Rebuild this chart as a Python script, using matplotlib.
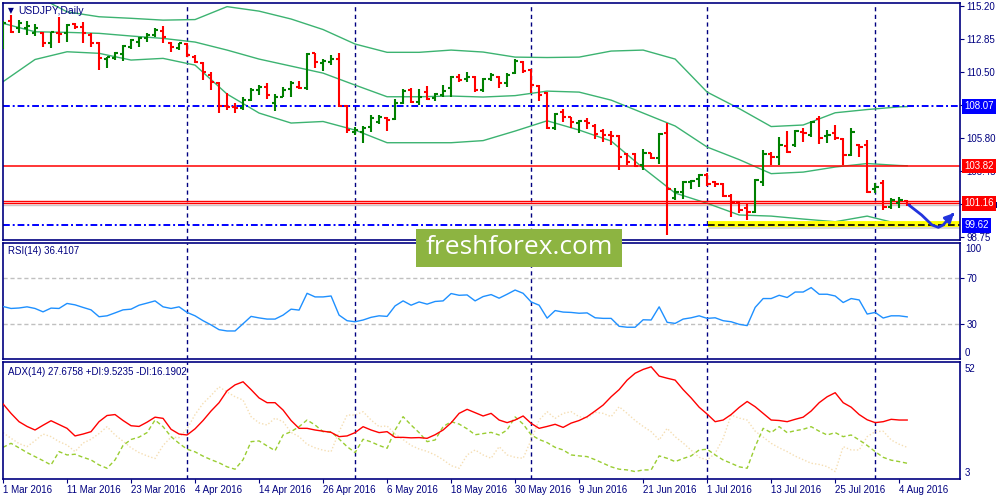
import numpy as np
import matplotlib
matplotlib.use('Agg')
import matplotlib.pyplot as plt
import matplotlib.transforms as mtransforms
from matplotlib.patches import Rectangle

plt.rcParams['font.family'] = ['Liberation Sans', 'DejaVu Sans']

NAVY = '#000080'
BULL = '#008000'
BEAR = '#ff0000'
BAND = '#3cb371'

# ---- data (USDJPY daily, 1 Mar - 5 Aug 2016) ----
date_labels = ['1 Mar 2016', '11 Mar 2016', '23 Mar 2016', '4 Apr 2016', '14 Apr 2016',
               '26 Apr 2016', '6 May 2016', '18 May 2016', '30 May 2016', '9 Jun 2016',
               '21 Jun 2016', '1 Jul 2016', '13 Jul 2016', '25 Jul 2016', '4 Aug 2016']
month_starts = [23, 44, 66, 88, 109]   # bar index of 1 Apr, 2 May, 1 Jun, 1 Jul, 1 Aug

opens = [112.31, 114.15, 113.61, 113.61, 113.26, 113.26, 112.55, 113.30, 113.26, 113.92,
         113.73, 113.14, 112.59, 111.41, 111.48, 111.79, 112.31, 112.66, 112.90, 113.14,
         113.44, 112.59, 112.19, 112.50, 111.59, 111.13, 110.29, 109.70, 108.09, 108.04,
         107.93, 108.52, 109.23, 109.42, 108.28, 108.75, 109.28, 109.42, 109.35, 111.84,
         111.13, 111.24, 111.41, 108.09, 106.26, 106.26, 106.62, 106.97, 107.21, 107.14,
         108.28, 109.23, 108.39, 109.11, 108.64, 108.87, 109.35, 110.17, 109.99, 110.13,
         109.23, 109.99, 110.17, 109.70, 110.46, 111.22, 110.65, 109.51, 109.03, 106.50,
         107.68, 107.28, 106.90, 107.04, 106.67, 106.33, 106.03, 105.95, 104.67, 104.67,
         103.89, 104.72, 104.37, 106.15, 101.52, 101.99, 102.70, 102.88, 103.18, 102.70,
         102.54, 101.69, 101.28, 100.81, 100.57, 102.70, 104.67, 104.48, 105.24, 105.31,
         106.26, 106.03, 107.14, 105.95, 106.15, 105.72, 104.60, 105.31, 105.31, 102.16,
         102.59, 100.93, 101.17, 101.35]
highs = [114.15, 114.56, 114.20, 114.15, 113.92, 113.37, 113.37, 114.44, 113.92, 113.97,
         114.08, 113.26, 112.66, 111.59, 111.95, 112.43, 112.83, 113.02, 113.26, 113.61,
         113.78, 112.66, 112.59, 112.55, 111.72, 111.24, 110.53, 109.82, 108.99, 108.28,
         108.75, 109.35, 109.58, 109.70, 108.94, 109.42, 109.89, 109.89, 111.84, 111.88,
         111.41, 111.72, 111.88, 108.16, 106.62, 106.67, 107.45, 107.45, 107.33, 108.57,
         109.28, 109.35, 109.28, 109.51, 109.03, 109.58, 110.22, 110.36, 110.53, 110.22,
         110.06, 110.41, 110.22, 110.41, 111.40, 111.31, 110.70, 109.58, 109.11, 107.61,
         107.85, 107.33, 107.09, 107.21, 106.81, 106.43, 106.33, 106.03, 104.77, 104.77,
         105.01, 104.77, 106.15, 106.86, 102.24, 102.78, 102.83, 103.25, 103.35, 102.78,
         102.59, 101.83, 101.35, 101.21, 102.88, 104.96, 104.84, 105.91, 106.33, 106.38,
         106.50, 107.04, 107.38, 106.38, 106.74, 105.79, 106.50, 105.42, 105.67, 102.63,
         102.83, 101.52, 101.60, 101.40]
lows = [112.12, 113.26, 113.26, 113.14, 113.07, 112.31, 112.19, 112.55, 112.66, 113.54,
        112.55, 112.26, 110.65, 110.77, 111.36, 111.31, 112.12, 112.31, 112.66, 113.02,
        112.59, 111.95, 112.07, 111.59, 111.13, 109.94, 109.23, 107.61, 107.80, 107.57,
        107.80, 108.47, 108.87, 108.57, 107.75, 108.71, 108.71, 109.28, 109.23, 110.77,
        110.60, 111.00, 108.04, 106.19, 106.03, 105.48, 106.26, 106.81, 106.33, 107.09,
        108.23, 108.32, 108.16, 108.52, 108.47, 108.75, 108.71, 109.82, 109.82, 109.08,
        109.11, 109.89, 109.35, 109.42, 110.36, 110.46, 108.99, 108.47, 106.43, 106.38,
        106.97, 106.50, 106.19, 106.43, 105.72, 105.55, 105.31, 103.54, 103.89, 103.73,
        103.54, 104.30, 103.96, 98.91, 101.40, 101.45, 102.16, 102.31, 102.40, 102.35,
        101.60, 100.22, 100.50, 99.98, 100.50, 102.40, 103.89, 103.89, 104.72, 105.19,
        105.55, 105.86, 105.39, 105.44, 105.67, 103.89, 104.57, 104.46, 101.92, 101.92,
        100.69, 100.74, 100.81, 100.98]
closes = [113.97, 113.37, 113.97, 113.78, 113.61, 112.55, 113.33, 113.21, 113.85, 113.73,
          113.26, 112.59, 111.48, 111.55, 111.88, 112.38, 112.78, 112.90, 113.14, 113.49,
          113.02, 112.31, 112.55, 111.72, 111.24, 110.53, 109.82, 108.09, 108.04, 107.93,
          108.52, 109.23, 109.42, 108.87, 108.75, 109.23, 109.75, 109.35, 111.79, 111.24,
          111.31, 111.41, 108.09, 106.38, 106.38, 106.50, 107.21, 107.33, 107.09, 108.28,
          109.18, 108.39, 108.75, 108.57, 108.94, 109.18, 110.13, 109.94, 110.13, 109.23,
          109.99, 110.29, 109.70, 110.29, 111.29, 110.60, 109.58, 108.87, 106.50, 107.52,
          107.28, 106.97, 107.04, 106.90, 106.10, 106.03, 105.95, 104.48, 104.13, 103.82,
          104.72, 104.37, 106.10, 102.16, 101.99, 102.70, 102.78, 103.18, 102.54, 102.54,
          101.69, 101.28, 100.69, 100.57, 102.83, 104.67, 104.48, 105.31, 104.84, 106.33,
          106.15, 106.97, 105.79, 106.03, 105.79, 104.60, 106.26, 105.19, 101.99, 102.35,
          100.93, 101.40, 101.40, 101.12]

# Bollinger bands, read every 4th bar
band_idx = list(range(0, 113, 4)) + [113]
bb_upper = [117.05, 115.98, 114.79, 114.44, 114.33, 114.20, 114.24, 115.16, 114.84, 114.28,
            113.53, 112.50, 111.91, 111.91, 112.07, 111.93, 111.57, 111.54, 111.57, 112.00,
            112.07, 111.43, 109.08, 107.91, 106.63, 106.74, 107.61, 107.84, 108.03, 108.05]
bb_middle = [113.97, 113.37, 113.33, 113.26, 113.07, 112.90, 112.64, 112.07, 111.43, 110.93,
             110.43, 109.58, 108.75, 108.75, 108.80, 108.73, 108.83, 109.15, 109.08, 108.51,
             107.59, 106.67, 105.17, 104.28, 103.28, 103.39, 103.75, 104.00, 103.86, 103.84]
bb_lower = [109.82, 111.40, 111.95, 111.84, 111.36, 111.48, 111.00, 108.94, 107.59, 106.88,
            106.99, 106.38, 105.48, 105.48, 105.48, 105.63, 106.31, 107.04, 106.38, 105.60,
            103.68, 101.90, 101.17, 100.34, 100.26, 100.05, 99.86, 100.26, 99.70, 99.63]

level_blue_top = 108.07
level_red_mid = 103.82
level_red_low = [101.35, 101.16]
bid_price = 101.04
level_blue_low = 99.62
price_ticks = [115.20, 112.85, 110.50, 108.15, 105.80, 103.45, 101.10, 98.75]
hidden_ticks = [108.15, 101.10]   # covered by the line labels on the chart

# hand-drawn arrow (bar index, price)
arrow_x = [113.2, 114.8, 116.1, 116.9, 117.5, 118.4]
arrow_y = [101.05, 100.34, 99.63, 99.46, 99.63, 100.21]
arrow_tip = (119.1, 100.62)

rsi = [45.3, 43.6, 44.0, 45.0, 43.6, 40.7, 43.9, 43.6, 47.9, 46.7,
       44.5, 42.4, 36.5, 37.3, 39.8, 42.4, 43.0, 46.4, 48.2, 50.1,
       45.0, 43.6, 45.0, 40.2, 37.3, 33.1, 29.5, 25.4, 24.3, 24.3,
       30.5, 36.8, 35.5, 34.5, 34.5, 37.9, 43.0, 42.2, 56.6, 53.5,
       53.5, 54.3, 37.9, 33.1, 32.2, 33.7, 36.0, 37.3, 36.8, 45.8,
       50.1, 46.4, 49.2, 47.3, 49.6, 50.1, 56.4, 54.9, 55.2, 50.1,
       53.8, 55.5, 52.4, 55.8, 59.4, 56.6, 49.2, 46.4, 35.3, 41.8,
       40.5, 40.2, 39.5, 39.8, 35.6, 35.1, 35.1, 28.3, 27.5, 27.5,
       33.9, 33.7, 45.0, 31.7, 30.8, 34.5, 35.6, 37.3, 35.1, 35.6,
       33.1, 32.2, 30.0, 28.9, 44.5, 52.1, 52.1, 54.9, 53.0, 57.7,
       57.7, 61.5, 55.8, 55.8, 54.3, 48.7, 52.1, 50.9, 38.8, 40.2,
       35.4, 37.3, 37.3, 36.4]

adx = [34.5, 30.5, 27.0, 25.0, 23.5, 25.5, 27.4, 25.8, 24.2, 21.0,
       21.8, 22.8, 27.0, 29.6, 30.0, 27.5, 25.3, 25.0, 26.8, 28.9,
       28.4, 23.8, 21.8, 21.4, 24.0, 27.5, 31.5, 35.0, 40.0, 42.5,
       43.8, 40.5, 37.0, 35.0, 35.0, 31.9, 27.5, 24.2, 24.2, 23.5,
       23.0, 22.5, 20.7, 21.0, 22.4, 24.9, 23.5, 22.4, 22.8, 20.4,
       20.4, 20.2, 20.3, 20.0, 21.5, 23.5, 26.5, 30.5, 32.2, 30.8,
       29.4, 30.5, 27.7, 26.6, 27.7, 29.4, 26.3, 24.2, 25.0, 25.9,
       24.6, 26.4, 27.5, 29.1, 31.5, 34.0, 37.5, 40.5, 44.5, 47.4,
       49.0, 50.1, 46.2, 45.3, 44.5, 40.5, 37.0, 33.1, 30.2, 27.0,
       27.7, 30.0, 33.0, 35.5, 33.3, 30.5, 27.7, 27.5, 27.0, 28.0,
       28.9, 31.5, 35.0, 37.5, 39.2, 35.0, 33.1, 30.0, 27.8, 26.6,
       27.0, 28.0, 27.7, 27.7]
plus_di = [16.2, 17.9, 16.0, 14.0, 12.3, 10.6, 8.8, 14.4, 13.0, 13.3,
           12.0, 10.9, 8.8, 7.4, 10.9, 17.0, 19.5, 20.5, 22.4, 27.7,
           24.9, 20.7, 17.9, 15.4, 14.3, 12.5, 11.0, 9.7, 8.0, 7.0,
           11.0, 18.6, 18.9, 16.8, 14.8, 21.4, 22.8, 24.9, 27.7, 25.6,
           22.8, 22.8, 19.7, 16.5, 14.0, 19.6, 18.5, 17.0, 15.8, 23.5,
           29.1, 25.6, 22.4, 18.6, 19.3, 24.9, 27.0, 26.0, 24.0, 21.5,
           22.0, 22.5, 21.4, 23.5, 29.0, 26.0, 21.5, 19.5, 18.2, 16.2,
           15.1, 13.0, 12.6, 12.3, 11.0, 9.5, 8.0, 7.0, 6.7, 6.0,
           6.7, 6.7, 12.6, 11.6, 10.2, 11.5, 12.6, 15.1, 15.4, 13.0,
           10.9, 9.5, 8.0, 7.4, 16.5, 24.2, 22.4, 24.9, 22.4, 23.2,
           23.8, 24.9, 23.0, 21.4, 22.4, 20.7, 21.4, 19.3, 17.0, 14.4,
           12.0, 10.8, 10.2, 9.5]
minus_di = [22.4, 20.0, 17.8, 16.5, 19.0, 21.8, 20.7, 18.6, 17.2, 14.4,
            18.0, 19.6, 22.0, 24.9, 21.4, 18.8, 16.0, 14.0, 12.6, 11.5,
            17.0, 20.5, 20.3, 24.0, 30.0, 34.7, 38.0, 41.7, 39.5, 37.5,
            36.1, 29.1, 26.5, 25.6, 28.5, 27.0, 22.5, 20.7, 17.5, 16.0,
            15.0, 14.4, 22.8, 29.8, 29.8, 31.2, 27.7, 24.9, 25.2, 21.8,
            19.5, 17.0, 15.5, 14.5, 13.0, 11.0, 8.5, 7.4, 13.0, 15.1,
            13.0, 11.6, 16.5, 13.0, 12.0, 11.6, 19.3, 27.7, 31.2, 28.4,
            30.5, 31.2, 29.1, 28.6, 31.0, 30.5, 29.1, 33.3, 30.5, 27.5,
            25.0, 22.8, 19.3, 24.2, 20.7, 18.0, 15.0, 12.0, 10.9, 13.7,
            20.0, 29.8, 28.5, 27.7, 23.0, 20.5, 17.9, 16.0, 14.4, 12.5,
            11.0, 9.5, 9.0, 8.1, 6.0, 16.5, 15.1, 15.1, 20.7, 22.8,
            23.0, 19.3, 17.5, 16.2]

# ---- figure ----
fig = plt.figure(figsize=(10, 5), dpi=100)
fig.patch.set_facecolor('white')
ax = fig.add_axes([0.0027, 0.52, 0.9573, 0.4746])
ax_rsi = fig.add_axes([0.0027, 0.2814, 0.9573, 0.2332])
ax_adx = fig.add_axes([0.0027, 0.0426, 0.9573, 0.2328])

n = len(closes)
x = np.arange(n)
o, h, l, c = map(np.array, (opens, highs, lows, closes))
xlim = (-0.04, 119.6)

for a in (ax, ax_rsi, ax_adx):
    a.set_xlim(*xlim)
    for s in a.spines.values():
        s.set_color(NAVY)
        s.set_linewidth(1.2)
    a.yaxis.tick_right()
    a.tick_params(axis='y', colors=NAVY, labelcolor=NAVY, length=3, width=0.8,
                  labelsize=7, pad=1.5)
    for m in month_starts:
        a.axvline(m, color=NAVY, lw=1.0, ls=(0, (3, 2.5)), zorder=1)

# price panel
ax.set_ylim(98.56, 115.44)
ax.set_yticks(price_ticks)
ax.set_yticklabels(['' if t in hidden_ticks else '%.2f' % t for t in price_ticks])
ax.set_xticks([])

ax.plot(band_idx, bb_upper, color=BAND, lw=1.0, zorder=2)
ax.plot(band_idx, bb_middle, color=BAND, lw=1.0, zorder=2)
ax.plot(band_idx, bb_lower, color=BAND, lw=1.0, zorder=2)

ax.axhline(level_blue_top, color='#0000ff', lw=1.4, ls=(0, (3.5, 1.5, 1, 1.5)), zorder=2)
ax.axhline(level_blue_low, color='#0000ff', lw=1.4, ls=(0, (3.5, 1.5, 1, 1.5)), zorder=2)
ax.axhline(level_red_mid, color='#ff0000', lw=1.1, zorder=2)
for lv in level_red_low:
    ax.axhline(lv, color='#ff0000', lw=1.0, zorder=2)
ax.axhline(bid_price, color='#c8c8c8', lw=1.0, zorder=1.5)

# yellow highlight of the support zone
ax.plot([88.1, xlim[1]], [level_blue_low - 0.16] * 2, color='#d4d4d4', lw=2.0,
        solid_capstyle='butt', zorder=2.1)
ax.plot([88.1, xlim[1]], [level_blue_low + 0.08] * 2, color='#ffff00', lw=4.2,
        solid_capstyle='butt', zorder=2.2)
ax.plot([88.1, xlim[1]], [level_blue_low] * 2, color='black', lw=1.2,
        ls=(0, (4, 2)), zorder=2.3)

cols = np.where(c >= o, BULL, BEAR)
ax.vlines(x, l, h, colors=cols, lw=1.5, zorder=3)
ax.hlines(o, x - 0.42, x, colors=cols, lw=1.5, zorder=3)
ax.hlines(c, x, x + 0.42, colors=cols, lw=1.5, zorder=3)

ax.plot(arrow_x, arrow_y, color='#2233dd', lw=2.0, solid_capstyle='round', zorder=4)
ax.annotate('', xy=arrow_tip, xytext=(arrow_x[-1], arrow_y[-1]),
            arrowprops=dict(arrowstyle='-|>', color='#2233dd', lw=2.0, mutation_scale=13),
            annotation_clip=False, zorder=4)

ax.text(0.0055, 0.965, '▼', transform=ax.transAxes, fontsize=5.5, color=NAVY,
        va='center', ha='left', family='DejaVu Sans')
ax.text(0.016, 0.965, 'USDJPY,Daily', transform=ax.transAxes, fontsize=7.5, color=NAVY,
        va='center', ha='left')

trans = mtransforms.blended_transform_factory(ax.transAxes, ax.transData)
# bid-price marker, almost fully hidden behind the 101.16 label
ax.add_patch(Rectangle((1.002, 100.83), 0.0365, 0.4, transform=trans, facecolor=NAVY,
                       edgecolor='none', clip_on=False, zorder=9))
box_labels = [(level_blue_top, '108.07', '#0000ff'),
              (level_red_mid, '103.82', '#ff0000'),
              (101.16, '101.16', '#ff0000'),
              (level_blue_low, '99.62', '#0000ff')]
for yv, txt, bg in box_labels:
    ax.text(1.0045, yv, txt, transform=trans, color='white', fontsize=7, va='center',
            ha='left', clip_on=False, zorder=11,
            bbox=dict(facecolor=bg, edgecolor='none', boxstyle='square,pad=0.25'))

# RSI panel
ax_rsi.set_ylim(0, 100)
ax_rsi.set_yticks([70, 30])
ax_rsi.set_xticks([])
for lv in (70, 30):
    ax_rsi.axhline(lv, color='#c0c0c0', lw=1.0, ls=(0, (3, 2)), zorder=1)
ax_rsi.plot(x, rsi, color='#1e90ff', lw=1.0, zorder=3)
rt = mtransforms.blended_transform_factory(ax_rsi.transAxes, ax_rsi.transData)
ax_rsi.text(1.0052, 94.5, '100', transform=rt, fontsize=7, color=NAVY, va='center', clip_on=False)
ax_rsi.text(1.0052, 5.5, '0', transform=rt, fontsize=7, color=NAVY, va='center', clip_on=False)
ax_rsi.text(0.0055, 0.93, 'RSI(14) 36.4107', transform=ax_rsi.transAxes, fontsize=7,
            color=NAVY, va='center', ha='left')

# ADX panel
ax_adx.set_ylim(3, 52)
ax_adx.set_yticks([])
ax_adx.plot(x, minus_di, color='#f5deb3', lw=1.0, ls=(0, (1, 1.5)), zorder=2)
ax_adx.plot(x, plus_di, color='#9acd32', lw=1.0, ls=(0, (3, 2)), zorder=2)
ax_adx.plot(x, adx, color='#ff0000', lw=1.0, zorder=3)
at = mtransforms.blended_transform_factory(ax_adx.transAxes, ax_adx.transData)
ax_adx.text(1.0052, 49.0, '52', transform=at, fontsize=7, color=NAVY, va='center', clip_on=False)
ax_adx.text(1.0052, 5.5, '3', transform=at, fontsize=7, color=NAVY, va='center', clip_on=False)
ax_adx.text(0.0055, 0.917, 'ADX(14) 27.6758 +DI:9.5235 -DI:16.1902', transform=ax_adx.transAxes,
            fontsize=7, color=NAVY, va='center', ha='left')

ax_adx.set_xticks(np.arange(0, n, 8))
ax_adx.set_xticklabels(date_labels, ha='left')
ax_adx.tick_params(axis='x', colors=NAVY, labelcolor=NAVY, length=3, width=0.8,
                   labelsize=7, pad=1.5)

# watermark
fig.patches.append(Rectangle((0.416, 0.466), 0.206, 0.077, transform=fig.transFigure,
                             facecolor='#8db441', edgecolor='none', zorder=5))
fig.text(0.519, 0.505, 'freshforex.com', color='white', fontsize=19, family='Open Sans',
         ha='center', va='center', zorder=6)

fig.savefig('out.png', dpi=100, facecolor='white')
